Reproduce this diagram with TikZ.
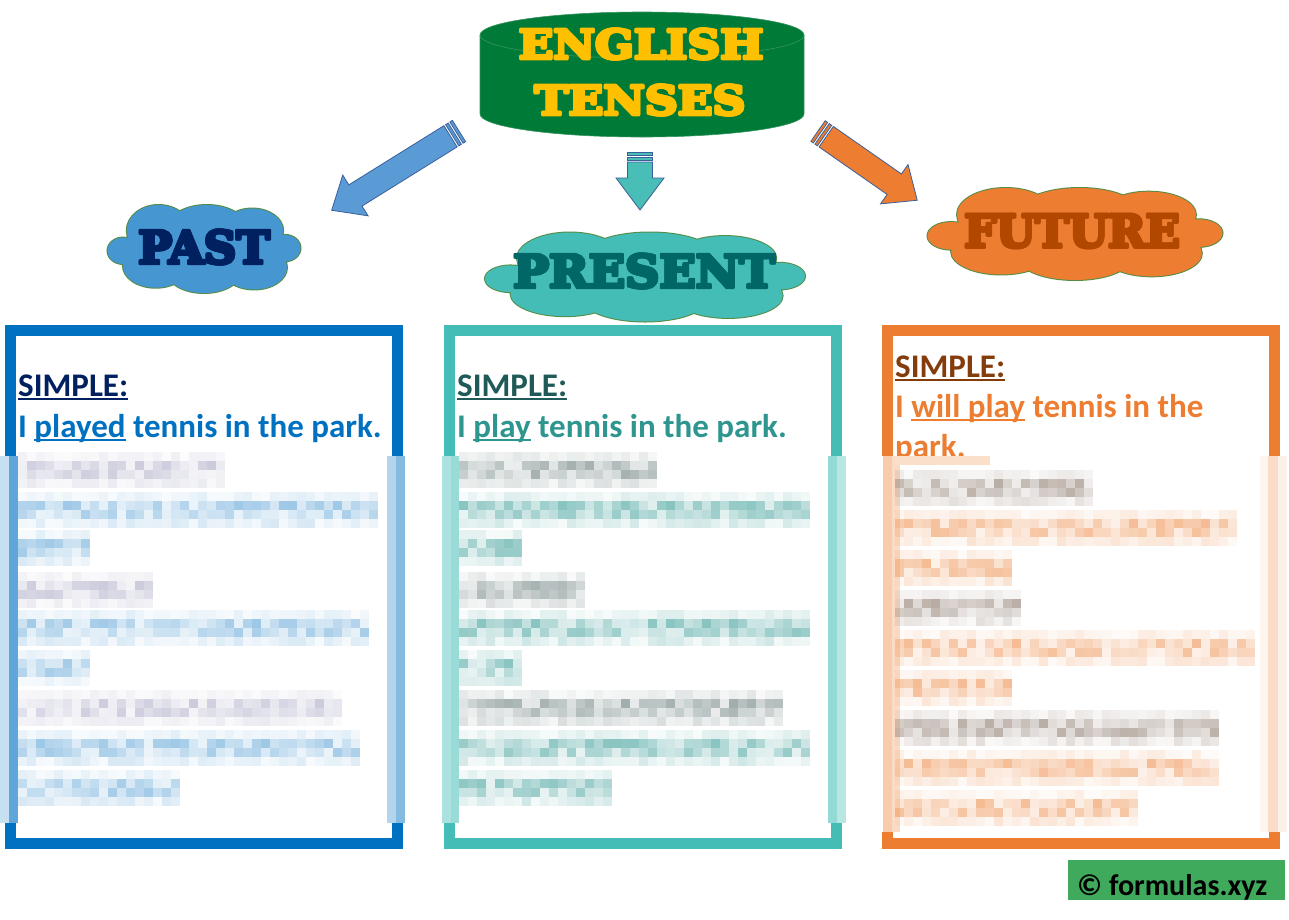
\documentclass[tikz,border=0pt]{standalone}
\usepackage{fontspec}
\setmainfont{Carlito}
\newfontfamily\slab[FakeBold=3]{DejaVu Serif}
\newfontfamily\slabmid[FakeBold=3,FakeStretch=1.06]{DejaVu Serif}
\newfontfamily\slabwide[FakeBold=3,FakeStretch=1.14]{DejaVu Serif}
\definecolor{cylgreen}{RGB}{0,122,55}
\definecolor{cyledge}{RGB}{45,145,85}
\definecolor{gold}{RGB}{255,192,0}
\definecolor{pastblue}{RGB}{0,112,192}
\definecolor{pastnavy}{RGB}{0,32,96}
\definecolor{pastcloudc}{RGB}{69,150,209}
\definecolor{arrblue}{RGB}{91,155,213}
\definecolor{arrorange}{RGB}{237,125,49}
\definecolor{arrteal}{RGB}{72,190,183}
\definecolor{arredge}{RGB}{58,95,154}
\definecolor{teal}{RGB}{68,189,182}
\definecolor{tealdark}{RGB}{0,102,102}
\definecolor{tealtext}{RGB}{46,150,142}
\definecolor{tealhead}{RGB}{31,90,88}
\definecolor{orange}{RGB}{237,125,49}
\definecolor{brown}{RGB}{132,60,12}
\definecolor{futtext}{RGB}{178,72,0}
\definecolor{cloudedge}{RGB}{84,140,70}
\definecolor{footgreen}{RGB}{64,170,92}
\newcommand\ulx[1]{\setbox0\hbox{#1}\rlap{\rule[-4pt]{\wd0}{2pt}}\box0\relax}
\newcommand\stripearrow[6]{%
  \begin{scope}[shift={(#2,#3)},rotate=#4]
    \filldraw[fill=#1,draw=arredge,line width=0.8pt] (0,-12.5) rectangle (3,12.5);
    \filldraw[fill=#1,draw=arredge,line width=0.8pt] (5,-12.5) rectangle (8,12.5);
    \filldraw[fill=#1,draw=arredge,line width=0.8pt,line join=miter]
      (10,-12.5) -- ({#5-#6},-12.5) -- ({#5-#6},-24) -- (#5,0) -- ({#5-#6},24) -- ({#5-#6},12.5) -- (10,12.5) -- cycle;
  \end{scope}}
\newcommand\cloudpath[1]{\path[#1]
  (0,0) ellipse[x radius=0.85,y radius=0.68]
  (-0.47,-0.42) ellipse[x radius=0.33,y radius=0.58]
  (0.03,-0.5) ellipse[x radius=0.4,y radius=0.5]
  (0.5,-0.42) ellipse[x radius=0.32,y radius=0.5]
  (0.84,-0.02) ellipse[x radius=0.16,y radius=0.3]
  (0.52,0.42) ellipse[x radius=0.34,y radius=0.5]
  (0.0,0.52) ellipse[x radius=0.38,y radius=0.48]
  (-0.5,0.38) ellipse[x radius=0.34,y radius=0.5]
  (-0.84,0.04) ellipse[x radius=0.16,y radius=0.3];}
\newcommand\cloudshape[5]{%
  \begin{scope}[shift={(#2,#3)},xscale=#4,yscale=#5]
    \cloudpath{draw=cloudedge,line width=2pt}
    \cloudpath{fill=#1}
  \end{scope}}
\newcommand\heavy[5]{%
  \foreach \dx/\dy [count=\k] in {-1.1/0,1.1/0,0/-1.1,0/1.1,-0.8/-0.8,0.8/0.8,-0.8/0.8,0.8/-0.8}
    \node[#4] (#1-\k) at ({#2+\dx},{#3+\dy}) {#5};
  \node[#4] (#1) at (#2,#3) {#5};}
\newcommand\blurline[4]{%
  \pgfmathtruncatemacro\ncols{(#3-#2)/9-1}%
  \foreach \cc in {0,...,\ncols}{%
    \foreach \rr/\ff in {0/0.2,1/0.7,2/0.65,3/0.28}{%
      \pgfmathsetmacro\op{\ff*(0.2+0.8*rnd)}%
      \fill[#1,opacity=\op] ({#2+9*\cc},{#4+9*\rr}) rectangle ++(9,9);
    }}}
\tikzset{
  slabtext/.style={font=\slab\bfseries\fontsize{45}{50}\selectfont, inner sep=0pt},
  titletext/.style={font=\slabwide\bfseries\fontsize{40}{45}\selectfont, inner sep=0pt, text=gold},
  boxtext/.style={font=\bfseries\fontsize{33}{40}\selectfont, anchor=base west, inner sep=0pt},
  tensebox/.style={line width=11pt}
}
\begin{document}
\begin{tikzpicture}[x=1pt,y=-1pt]
\pgfmathsetseed{7}
\useasboundingbox (0,0) rectangle (1289,919);
\fill[white] (0,0) rectangle (1289,919);

% cylinder
\filldraw[fill=cylgreen,draw=cylgreen!80!white,line width=0.6pt] (480,35) -- (480,114) arc[start angle=180,end angle=0,x radius=162,y radius=23] -- (804,35) arc[start angle=0,end angle=-180,x radius=162,y radius=23] -- cycle;
\draw[cyledge,line width=0.8pt] (480,35) arc[start angle=180,end angle=0,x radius=162,y radius=23];
\heavy{english}{641}{44}{titletext}{ENGLISH}
\heavy{tenses}{640}{100}{titletext}{TENSES}

% arrows
\stripearrow{arrblue}{459}{131}{211.9}{150}{28}
\stripearrow{arrteal}{640}{152}{-90}{58}{32}
\stripearrow{arrorange}{818}{131}{-34.9}{121}{28}

% clouds
\cloudshape{pastcloudc}{204}{249}{96.5}{44}
\heavy{past}{204}{247}{slabtext,text=pastnavy}{PAST}
\cloudshape{teal}{645}{277}{160}{44.5}
\heavy{present}{644}{271}{slabtext,text=tealdark,font=\slabmid\bfseries\fontsize{45}{50}\selectfont}{PRESENT}
\cloudshape{orange}{1075}{234}{147.5}{46}
\heavy{future}{1072}{231}{slabtext,text=futtext}{FUTURE}

% boxes
\draw[tensebox,pastblue] (10.5,330.5) rectangle (397.5,843);
\draw[tensebox,teal] (449.5,330.5) rectangle (836.5,843);
\draw[tensebox,orange] (887.5,330.5) rectangle (1274.5,843);

% box texts
\node[boxtext,text=pastnavy] (pastsimple) at (18,396) {\ulx{SIMPLE:}};
\node[boxtext,text=pastblue] (pastsent) at (18,437) {I \ulx{played} tennis in the park.};
\node[boxtext,text=tealhead] (presimple) at (457,396) {\ulx{SIMPLE:}};
\node[boxtext,text=tealtext] (presentsent) at (457,437) {I \ulx{play} tennis in the park.};
\node[boxtext,text=brown] (futsimple) at (895,377) {\ulx{SIMPLE:}};
\node[boxtext,text=orange] (futsent) at (895,417) {I \ulx{will play} tennis in the};
\node[boxtext,text=orange] (futsent2) at (895,457) {park.};

% blurred regions
\fill[white] (0,456) rectangle (405,823);
\fill[white] (442,456) rectangle (846,823);
\fill[white] (882,456) rectangle (1289,832);
\fill[pastblue!22] (0,456) rectangle (9,823);
\fill[pastblue!62] (9,456) rectangle (18,823);
\fill[pastblue!30] (387,456) rectangle (396,823);
\fill[pastblue!48] (396,456) rectangle (405,823);
\fill[teal!45] (442,456) rectangle (451,823);
\fill[teal!55] (451,456) rectangle (459,823);
\fill[teal!58] (828,456) rectangle (837,823);
\fill[teal!38] (837,456) rectangle (846,823);
\fill[orange!40] (883,456) rectangle (892,832);
\fill[orange!28] (892,456) rectangle (900,832);
\fill[orange!8] (1260,456) rectangle (1268,832);
\fill[orange!26] (1268,456) rectangle (1278,832);
\fill[orange!10] (1278,456) rectangle (1287,832);

\colorlet{pgrey}{black!30!blue!20!white!70!gray}
\colorlet{pblue}{pastblue!55!white}
\blurline{pgrey}{18}{225}{452}
\blurline{pblue}{18}{378}{492}
\blurline{pblue}{18}{90}{530}
\blurline{pgrey}{18}{153}{572}
\blurline{pblue}{18}{370}{610}
\blurline{pblue}{18}{90}{650}
\blurline{pgrey}{18}{350}{690}
\blurline{pblue}{18}{368}{730}
\blurline{pblue}{18}{180}{770}

\colorlet{tgrey}{gray!85!teal}
\colorlet{tcol}{teal!70!gray}
\blurline{tgrey}{459}{657}{452}
\blurline{tcol}{459}{810}{492}
\blurline{tcol}{459}{530}{530}
\blurline{tgrey}{459}{585}{572}
\blurline{tcol}{459}{818}{610}
\blurline{tcol}{459}{530}{650}
\blurline{tgrey}{459}{783}{690}
\blurline{tcol}{459}{818}{730}
\blurline{tcol}{459}{612}{770}

\colorlet{fgrey}{brown!30!gray!80!white}
\colorlet{fcol}{orange!75!white}
\fill[orange!25] (895,456) rectangle (990,465);
\blurline{fgrey}{895}{1097}{470}
\blurline{fcol}{895}{1240}{510}
\blurline{fcol}{895}{1018}{550}
\blurline{fgrey}{895}{1022}{590}
\blurline{fcol}{895}{1260}{630}
\blurline{fcol}{895}{1015}{670}
\blurline{fgrey}{895}{1222}{710}
\blurline{fcol}{895}{1220}{750}
\blurline{fcol}{895}{1142}{790}

% footer
\node[fill=footgreen,minimum width=217pt,minimum height=40pt,anchor=north west,inner sep=0pt] (footer) at (1068,860) {};
\node[font=\bfseries\fontsize{30}{33}\selectfont,anchor=west,inner sep=0pt] (copy) at (1077,887) {© formulas.xyz};
\end{tikzpicture}
\end{document}
